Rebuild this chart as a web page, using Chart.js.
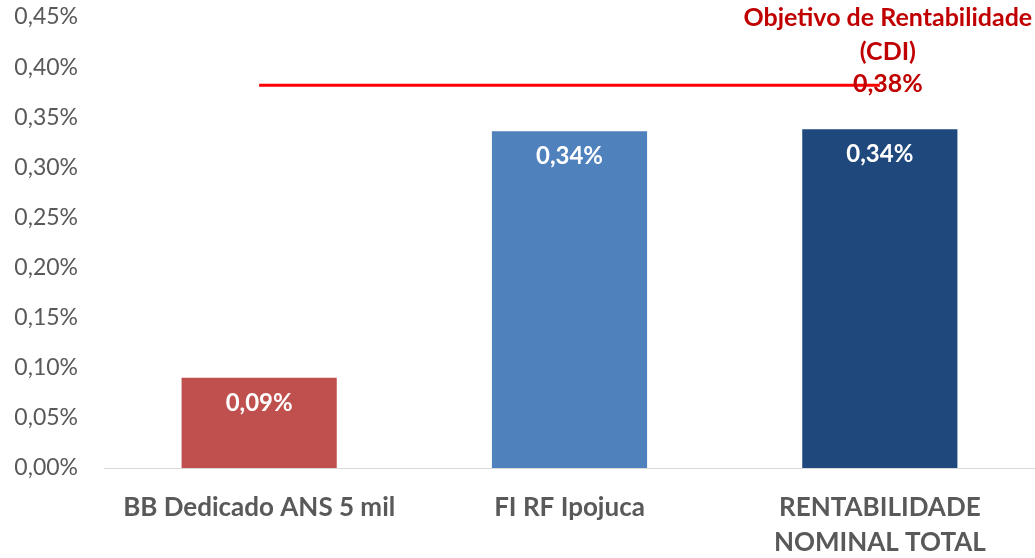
<!DOCTYPE html>
<html>
<head>
<meta charset="utf-8">
<script src="https://cdn.jsdelivr.net/npm/chart.js@4/dist/chart.umd.min.js"></script>
<style>
    html, body { margin: 0; padding: 0; background: #ffffff; }
    #wrap { width: 1035px; height: 558px; }
</style>
</head>
<body>
<div id="wrap"><canvas id="chart"></canvas></div>
<script>
// Chart data
const categories = [['BB Dedicado ANS 5 mil'], ['FI RF Ipojuca'], ['RENTABILIDADE', 'NOMINAL TOTAL']];
const returns = [0.090, 0.336, 0.338];
const returnLabels = ['0,09%', '0,34%', '0,34%'];
const barColors = ['#C0504D', '#4F81BD', '#1F497D'];
const targetName = ['Objetivo de Rentabilidade', '(CDI)'];
const target = [0.382, 0.382, 0.382];
const targetLabel = '0,38%';
const yTickLabels = ['0,00%', '0,05%', '0,10%', '0,15%', '0,20%', '0,25%', '0,30%', '0,35%', '0,40%', '0,45%'];

const FONT = 'Lato, "Open Sans", sans-serif';
const GRAY = '#595959';
const DARK_RED = '#C00000';

// Draws the value labels inside the bars and the label of the target line
const labelPlugin = {
    id: 'labels',
    afterDatasetsDraw(chart) {
        const ctx = chart.ctx;
        ctx.save();
        ctx.textAlign = 'center';
        ctx.textBaseline = 'middle';

        // Bar labels
        ctx.font = 'bold 24px ' + FONT;
        ctx.fillStyle = '#ffffff';
        chart.getDatasetMeta(0).data.forEach((bar, i) => {
            ctx.fillText(returnLabels[i], bar.x, bar.y + 25);
        });

        // Target label on the last point
        const pts = chart.getDatasetMeta(1).data;
        const last = pts[pts.length - 1];
        ctx.font = 'bold 25px ' + FONT;
        ctx.fillStyle = DARK_RED;
        const cx = last.x + 8;
        ctx.fillText(targetName[0], cx, last.y - 67);
        ctx.fillText(targetName[1], cx, last.y - 33);
        ctx.fillText(targetLabel, cx, last.y - 1);
        ctx.restore();
    }
};

const ctx = document.getElementById('chart').getContext('2d');
const chart = new Chart(ctx, {
    type: 'bar',
    data: {
        labels: categories,
        datasets: [{
            label: 'Rentabilidade',
            data: returns,
            backgroundColor: barColors,
            categoryPercentage: 1,
            barPercentage: 0.5,
            order: 2
        }, {
            label: targetName.join(' '),
            type: 'line',
            data: target,
            borderColor: '#FF0000',
            borderWidth: 3,
            pointRadius: 0,
            fill: false,
            order: 1
        }]
    },
    options: {
        responsive: true,
        maintainAspectRatio: false,
        animation: false,
        layout: {
            padding: { top: 17, right: 0, left: 0, bottom: 0 }
        },
        plugins: {
            legend: { display: false },
            tooltip: { enabled: false }
        },
        scales: {
            x: {
                grid: {
                    display: false,
                    drawTicks: false
                },
                border: {
                    display: true,
                    color: '#D9D9D9',
                    width: 1
                },
                ticks: {
                    color: GRAY,
                    padding: 22,
                    font: { family: FONT, size: 26, weight: 'bold', lineHeight: 1.35 },
                    maxRotation: 0,
                    autoSkip: false
                },
                afterFit(scale) {
                    scale.height = 90;
                    scale.paddingLeft = 0;
                    scale.paddingRight = 0;
                }
            },
            y: {
                min: 0,
                max: 0.45,
                grid: {
                    display: false,
                    drawTicks: false
                },
                border: { display: false },
                ticks: {
                    stepSize: 0.05,
                    color: GRAY,
                    padding: 26,
                    font: { family: FONT, size: 23 },
                    callback: (value, index) => yTickLabels[index]
                },
                afterFit(scale) {
                    scale.width = 104;
                    scale.paddingTop = 0;
                    scale.paddingBottom = 0;
                }
            }
        }
    },
    plugins: [labelPlugin]
});
</script>
</body>
</html>
